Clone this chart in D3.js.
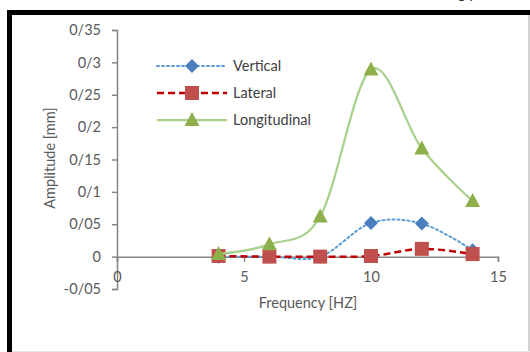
<!DOCTYPE html>
<html>
<head>
<meta charset="utf-8">
<script src="https://cdn.jsdelivr.net/npm/d3@7/dist/d3.min.js"></script>
<style>
  html, body { margin: 0; padding: 0; background: #fff; }
  svg { display: block; }
  text { font-family: Lato, "Open Sans", sans-serif; }
</style>
</head>
<body>
<svg id="chart" width="530" height="352"></svg>
<script>
// Frequencies (Hz) and measured amplitudes (mm)
const frequency = [4, 6, 8, 10, 12, 14];
const vertical = [0.0, 0.0, 0.0, 0.052, 0.051, 0.010];
const lateral = [0.001, 0.0, 0.0, 0.001, 0.012, 0.004];
const longitudinal = [0.004, 0.019, 0.062, 0.289, 0.167, 0.086];

const seriesNames = ["Vertical", "Lateral", "Longitudinal"];

const yTicks = [-0.05, 0, 0.05, 0.1, 0.15, 0.2, 0.25, 0.3, 0.35];
const yTickLabels = ["-0/05", "0", "0/05", "0/1", "0/15", "0/2", "0/25", "0/3", "0/35"];
const xTicks = [0, 5, 10, 15];
const xTickLabels = ["0", "5", "10", "15"];

const svg = d3.select("#chart");
const fontSize = 14.5;

// Page frame
svg.append("rect").attr("x", 7).attr("y", 10).attr("width", 523).attr("height", 5).attr("fill", "#000");
svg.append("rect").attr("x", 7).attr("y", 10).attr("width", 5).attr("height", 342).attr("fill", "#000");
svg.append("line").attr("x1", 529).attr("x2", 529).attr("y1", 15).attr("y2", 352).attr("stroke", "#a6a6a6").attr("stroke-width", 1);
svg.append("line").attr("x1", 12).attr("x2", 530).attr("y1", 351.5).attr("y2", 351.5).attr("stroke", "#e6e6e6").attr("stroke-width", 1);
svg.append("text").attr("x", 458).attr("y", -1).attr("font-size", 14).attr("fill", "#222").text("g   y");

const x = d3.scaleLinear().domain([0, 15]).range([117, 498]);
const y = d3.scaleLinear().domain([-0.05, 0.35]).range([289, 30]);

const axisColor = "#868686";
const labelColor = "#595959";

// Y axis
const yAxis = svg.append("g")
  .attr("transform", `translate(${x(0)},0)`)
  .call(d3.axisLeft(y).tickValues(yTicks).tickFormat((d, i) => yTickLabels[i])
    .tickSize(5).tickSizeOuter(5).tickPadding(11));
// X axis on the zero line
const xAxis = svg.append("g")
  .attr("transform", `translate(0,${y(0)})`)
  .call(d3.axisBottom(x).tickValues(xTicks).tickFormat((d, i) => xTickLabels[i])
    .tickSize(5).tickSizeOuter(5).tickPadding(10));

[yAxis, xAxis].forEach(g => {
  g.select(".domain").attr("stroke", axisColor).attr("stroke-width", 1.5);
  g.selectAll(".tick line").attr("stroke", axisColor).attr("stroke-width", 1.5);
  g.selectAll(".tick text").attr("fill", labelColor).attr("font-size", fontSize)
    .attr("font-family", "Lato, sans-serif");
});

// Axis titles
svg.append("text").attr("x", 308).attr("y", 308).attr("text-anchor", "middle")
  .attr("font-size", fontSize).attr("fill", labelColor).text("Frequency [HZ]");
svg.append("text").attr("transform", "translate(55,158) rotate(-90)").attr("text-anchor", "middle")
  .attr("font-size", fontSize).attr("fill", labelColor).text("Amplitude [mm]");

// Series styles
const styles = [
  { values: vertical, line: "#5b9bd5", width: 2, dash: "2,3", cap: "round", marker: "diamond", fill: "#4a7ebf" },
  { values: lateral, line: "#c00000", width: 2.5, dash: "7,4", cap: "butt", marker: "square", fill: "#c0504d" },
  { values: longitudinal, line: "#a9d18e", width: 2.25, dash: null, cap: "butt", marker: "triangle", fill: "#8db04a" }
];

const smooth = d3.line().x(d => x(d[0])).y(d => y(d[1])).curve(d3.curveCatmullRom.alpha(0));

function markerPath(kind) {
  if (kind === "diamond") return "M0,-7L7,0L0,7L-7,0Z";
  if (kind === "square") return "M-7,-7H7V7H-7Z";
  return "M0,-8L7.5,6L-7.5,6Z";
}

const plot = svg.append("g");
styles.forEach(s => {
  const pts = frequency.map((f, i) => [f, s.values[i]]);
  plot.append("path").attr("d", smooth(pts)).attr("fill", "none")
    .attr("stroke", s.line).attr("stroke-width", s.width)
    .attr("stroke-dasharray", s.dash).attr("stroke-linecap", s.cap);
  plot.selectAll(null).data(pts).enter().append("path")
    .attr("transform", d => `translate(${x(d[0])},${y(d[1])})`)
    .attr("d", markerPath(s.marker)).attr("fill", s.fill);
});

// Legend
const legend = svg.append("g");
const legendY = [66, 93, 120];
styles.forEach((s, i) => {
  const ly = legendY[i];
  legend.append("line").attr("x1", 157).attr("x2", 227).attr("y1", ly).attr("y2", ly)
    .attr("stroke", s.line).attr("stroke-width", s.width)
    .attr("stroke-dasharray", s.dash).attr("stroke-linecap", s.cap);
  legend.append("path").attr("transform", `translate(192,${ly})`)
    .attr("d", markerPath(s.marker)).attr("fill", s.fill);
  legend.append("text").attr("x", 233).attr("y", ly).attr("dy", "0.35em")
    .attr("font-size", fontSize).attr("fill", "#404040").text(seriesNames[i]);
});
</script>
</body>
</html>
